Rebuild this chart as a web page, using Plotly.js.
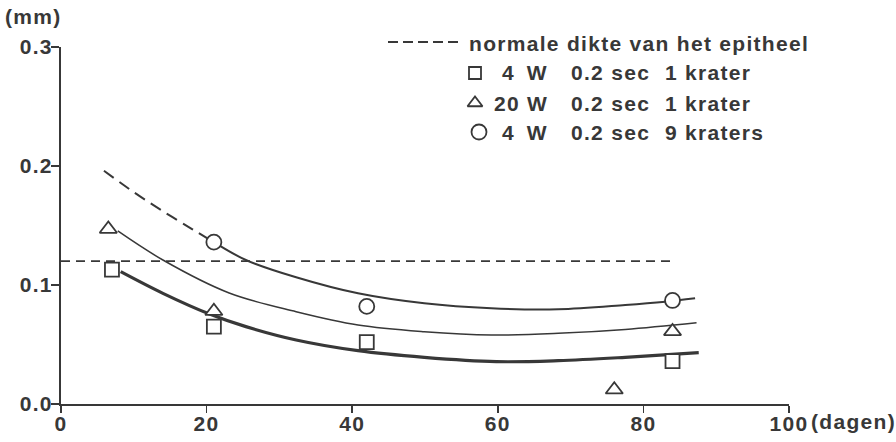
<!DOCTYPE html>
<html>
<head>
<meta charset="utf-8">
<script src="https://cdn.plot.ly/plotly-3.0.1.min.js"></script>
<style>
  html, body { margin: 0; padding: 0; background: #ffffff; }
  #chart { width: 896px; height: 442px; }
  text { letter-spacing: 1.3px; font-weight: 700 !important; }
</style>
</head>
<body>
<div id="chart"></div>
<script>
// ---- data ----
const xTickVals = [0, 20, 40, 60, 80, 100];
const xTickText = ['0', '20', '40', '60', '80', '100'];
const yTickVals = [0, 0.1, 0.2, 0.3];
const yTickText = ['0.0', '0.1', '0.2', '0.3'];

// normal epithelium thickness (dashed horizontal)
const normalDays = [0, 84];
const normalThickness = [0.12, 0.12];

// measured points
const sqDays = [7, 21, 42, 84];          // 4 W 0.2 sec 1 krater
const sqThick = [0.113, 0.065, 0.052, 0.036];
const triDays = [6.5, 21, 76, 84];       // 20 W 0.2 sec 1 krater
const triThick = [0.147, 0.078, 0.012, 0.061];
const circDays = [21, 42, 84];           // 4 W 0.2 sec 9 kraters
const circThick = [0.136, 0.082, 0.087];

// fitted curves
const sqCurveX = [8.2, 14, 20.4, 25.4, 32.3, 40.8, 49.9, 59.8, 68.3, 77.5, 87.6];
const sqCurveY = [0.1112, 0.093, 0.0756, 0.065, 0.0538, 0.0448, 0.0392, 0.0356, 0.0364, 0.0392, 0.0431];
const triCurveX = [7.8, 14, 23.1, 32.3, 40.8, 49.9, 59.1, 68.3, 77.5, 87.3];
const triCurveY = [0.1454, 0.121, 0.0933, 0.0776, 0.0664, 0.0608, 0.058, 0.0594, 0.0627, 0.0683];
const circDashX = [5.9, 10, 14, 18, 21];
const circDashY = [0.196, 0.178, 0.162, 0.147, 0.136];
const circCurveX = [21, 25.4, 32.3, 40.8, 49.9, 59.1, 68.3, 77.5, 83, 87.1];
const circCurveY = [0.136, 0.121, 0.1065, 0.093, 0.0846, 0.0804, 0.0796, 0.0832, 0.086, 0.0888];

// legend texts
const legendNormal = 'normale dikte van het epitheel';
const legendPower = ['4\u2002W', '20 W', '4\u2002W'];
const legendTime = ['0.2 sec', '0.2 sec', '0.2 sec'];
const legendCraters = ['1 krater', '1 krater', '9 kraters'];

// ---- styling / layout ----
const INK = '#383838';
const FONT = {family: 'Liberation Sans, Arial, sans-serif', size: 21, color: INK, weight: 700};
const W = 896, H = 442;
const M = {l: 61, r: 107, t: 47, b: 38};
const PW = W - M.l - M.r, PH = H - M.t - M.b;
const px = x => (x - M.l) / PW;          // pixel -> paper x
const py = y => (H - M.b - y) / PH;      // pixel -> paper y

const lineTrace = (x, y, width, dash) => ({
  x, y, type: 'scatter', mode: 'lines', hoverinfo: 'skip', showlegend: false,
  line: {color: INK, width, dash: dash || 'solid', shape: 'spline', smoothing: 1},
  cliponaxis: false
});
const markerTrace = (x, y, symbol, size, xa, ya) => ({
  x, y, type: 'scatter', mode: 'markers', showlegend: false, cliponaxis: false,
  xaxis: xa || 'x', yaxis: ya || 'y',
  marker: {symbol, size, color: '#ffffff', line: {color: INK, width: 1.8}}
});

const traces = [
  {x: normalDays, y: normalThickness, type: 'scatter', mode: 'lines', showlegend: false,
   line: {color: INK, width: 1.8, dash: '9px,6px'}, cliponaxis: false},
  lineTrace(sqCurveX, sqCurveY, 3.2),
  lineTrace(triCurveX, triCurveY, 1.5),
  lineTrace(circDashX, circDashY, 2, '12px,7px'),
  lineTrace(circCurveX, circCurveY, 2),
  markerTrace(sqDays, sqThick, 'square', 14),
  markerTrace(triDays, triThick, 'triangle-up', 15),
  markerTrace(circDays, circThick, 'circle', 15),
];

// legend symbols on an overlay axis in pixel units
const legX = [475, 475, 479];
const legY = [73, 103, 132];
const legSym = ['square', 'triangle-up', 'circle'];
const legSize = [12, 13, 15];
for (let i = 0; i < 3; i++) {
  traces.push(markerTrace([legX[i]], [legY[i]], legSym[i], legSize[i], 'x2', 'y2'));
}

const annotations = [];
const ann = (text, x, y, xanchor) => annotations.push({
  text, xref: 'paper', yref: 'paper', x: px(x), y: py(y), xanchor, yanchor: 'middle',
  showarrow: false, font: FONT
});
ann('(mm)', 3, 16, 'left');
ann('(dagen)', 809, 421, 'left');
ann(legendNormal, 467, 43, 'left');
for (let i = 0; i < 3; i++) {
  ann(legendPower[i], 550, legY[i], 'right');
  ann(legendTime[i], 569, legY[i], 'left');
  ann(legendCraters[i], 663, legY[i], 'left');
}

const layout = {
  width: W, height: H,
  margin: M,
  paper_bgcolor: '#ffffff', plot_bgcolor: '#ffffff',
  font: FONT,
  showlegend: false,
  xaxis: {
    range: [0, 100], tickvals: xTickVals, ticktext: xTickText,
    showline: true, linecolor: INK, linewidth: 2, showgrid: false, zeroline: false,
    ticks: 'outside', ticklen: 7, tickwidth: 1.5, tickcolor: INK, tickfont: FONT,
    ticklabelstandoff: -7
  },
  yaxis: {
    range: [0, 0.3], tickvals: yTickVals, ticktext: yTickText,
    showline: true, linecolor: INK, linewidth: 2, showgrid: false, zeroline: false,
    ticks: 'outside', ticklen: 8, tickwidth: 1.5, tickcolor: INK, tickfont: FONT,
    ticklabelstandoff: -6
  },
  xaxis2: {overlaying: 'x', range: [M.l, W - M.r], visible: false, fixedrange: true},
  yaxis2: {overlaying: 'y', range: [H - M.b, M.t], visible: false, fixedrange: true},
  shapes: [{
    type: 'line', xref: 'paper', yref: 'paper',
    x0: px(388), x1: px(461), y0: py(42), y1: py(42),
    line: {color: INK, width: 1.8, dash: '10px,5px'}
  }],
  annotations
};

Plotly.newPlot('chart', traces, layout, {staticPlot: true, displayModeBar: false});
</script>
</body>
</html>
